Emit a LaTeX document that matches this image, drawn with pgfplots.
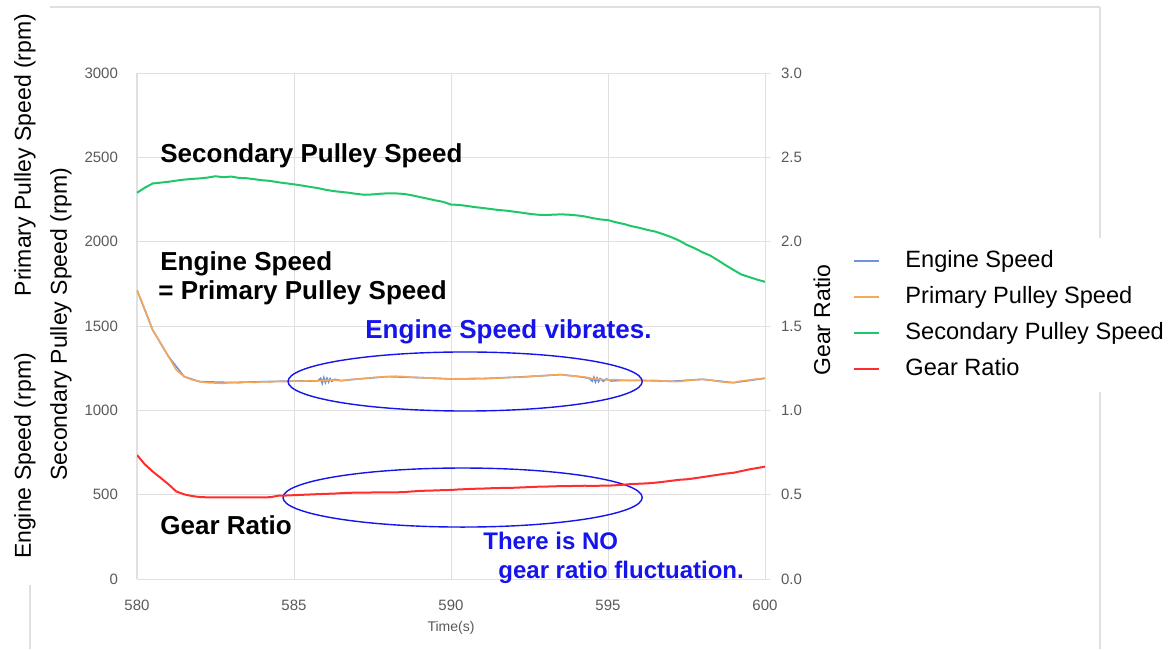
\documentclass[border=0pt]{standalone}
\usepackage{fontspec}
\setmainfont{Liberation Sans}
\usepackage{pgfplots}
\pgfplotsset{compat=1.18}
\usepackage{pgfplotstable}

\definecolor{gridgray}{RGB}{224,224,224}
\definecolor{tickgray}{RGB}{89,89,89}
\definecolor{secgreen}{RGB}{30,200,105}
\definecolor{priorange}{RGB}{245,168,92}
\definecolor{engblue}{RGB}{111,147,216}
\definecolor{ratiored}{RGB}{255,45,45}
\definecolor{annblue}{RGB}{20,20,235}

% t, secondary pulley (rpm), primary pulley (rpm), gear ratio
\pgfplotstableread{
t sec pri gr
580.00 2290 1713 0.735
580.25 2320 1600 0.680
580.50 2345 1476 0.637
580.75 2350 1400 0.600
581.00 2355 1320 0.562
581.25 2362 1240 0.519
581.50 2368 1200 0.502
581.75 2372 1182 0.492
582.00 2375 1170 0.486
582.25 2380 1164 0.484
582.50 2388 1162 0.484
582.75 2382 1160 0.484
583.00 2386 1165 0.484
583.25 2378 1163 0.484
583.50 2376 1168 0.484
583.75 2370 1165 0.484
584.00 2364 1170 0.484
584.25 2360 1168 0.485
584.50 2352 1172 0.494
584.75 2346 1170 0.495
585.00 2340 1174 0.497
585.25 2333 1172 0.499
585.50 2325 1176 0.501
585.75 2318 1174 0.503
586.00 2308 1178 0.505
586.25 2300 1180 0.506
586.50 2295 1176 0.509
586.75 2290 1182 0.511
587.00 2283 1185 0.512
587.25 2278 1190 0.512
587.50 2280 1194 0.513
587.75 2284 1198 0.513
588.00 2287 1200 0.513
588.25 2286 1202 0.514
588.50 2283 1200 0.515
588.75 2275 1196 0.519
589.00 2265 1194 0.522
589.25 2255 1192 0.524
589.50 2245 1190 0.525
589.75 2236 1188 0.527
590.00 2220 1186 0.528
590.25 2218 1188 0.531
590.50 2212 1186 0.533
590.75 2205 1190 0.535
591.00 2200 1188 0.536
591.25 2194 1190 0.538
591.50 2188 1190 0.539
591.75 2184 1194 0.541
592.00 2178 1196 0.541
592.25 2172 1196 0.543
592.50 2165 1200 0.545
592.75 2160 1204 0.547
593.00 2158 1206 0.548
593.25 2160 1210 0.549
593.50 2162 1212 0.551
593.75 2160 1206 0.551
594.00 2156 1202 0.552
594.25 2150 1198 0.553
594.50 2140 1188 0.552
594.75 2132 1184 0.553
595.00 2128 1180 0.553
595.25 2115 1182 0.556
595.50 2105 1178 0.559
595.75 2092 1176 0.563
596.00 2082 1178 0.565
596.25 2070 1176 0.567
596.50 2060 1178 0.571
596.75 2045 1174 0.576
597.00 2028 1172 0.582
597.25 2008 1170 0.588
597.50 1982 1176 0.591
597.75 1962 1180 0.597
598.00 1938 1184 0.604
598.25 1918 1180 0.611
598.50 1890 1172 0.618
598.75 1860 1166 0.625
599.00 1832 1164 0.630
599.25 1805 1174 0.640
599.50 1790 1180 0.650
599.75 1775 1186 0.658
600.00 1762 1190 0.666
}\main

% engine speed: follows the primary pulley, with the vibration spots
\pgfplotstableread{
t eng
580.00 1713
580.50 1476
581.00 1320
581.50 1200
582.00 1170
583.00 1165
584.00 1170
585.00 1174
585.75 1174
585.85 1190
585.90 1160
585.95 1194
586.00 1165
586.05 1190
586.10 1168
586.15 1188
586.20 1172
586.30 1184
586.50 1176
587.00 1185
588.00 1200
589.00 1194
590.00 1186
591.00 1188
592.00 1196
593.00 1206
593.50 1212
594.00 1202
594.40 1190
594.50 1172
594.55 1196
594.60 1168
594.65 1192
594.70 1170
594.75 1188
594.85 1172
594.95 1186
595.10 1174
595.50 1178
596.00 1178
597.00 1172
598.00 1184
599.00 1164
600.00 1190
}\engine

\begin{document}
\begin{tikzpicture}
\useasboundingbox (0,0) rectangle (586pt,324.5pt);

% slide frame lines
\draw[gridgray, line width=0.6pt] (25pt,321pt) -- (550pt,321pt);
\draw[gridgray, line width=0.6pt] (550pt,321pt) -- (550pt,0pt);
\draw[gridgray, line width=0.6pt] (15pt,32pt) -- (15pt,0pt);

\begin{axis}[
    at={(68.5pt,35pt)}, anchor=south west,
    scale only axis, width=314pt, height=253pt,
    xmin=580, xmax=600, ymin=0, ymax=3000,
    xtick={580,585,590,595,600},
    ytick={0,500,1000,1500,2000,2500,3000},
    axis x line*=bottom, axis y line*=left,
    axis line style={draw=gridgray, line width=0.5pt, -},
    grid=major, grid style={draw=gridgray, line width=0.5pt},
    major tick length=0pt,
    ticklabel style={font=\fontsize{7.5}{9}\selectfont, text=tickgray},
    yticklabel style={xshift=-6pt},
    xticklabel style={yshift=-7pt},
    /pgf/number format/assume math mode=true,
    /pgf/number format/1000 sep={},
    xlabel={Time(s)},
    xlabel style={font=\fontsize{7}{8}\selectfont, text=tickgray,
        at={(axis description cs:0.5,0)}, anchor=center, yshift=-24.5pt},
]
\addplot[engblue, line width=0.8pt] table[x=t, y=eng] {\engine};
\addplot[priorange, line width=0.8pt] table[x=t, y=pri] {\main};
\addplot[secgreen, line width=1pt] table[x=t, y=sec] {\main};
\draw[annblue, line width=0.7pt] (axis cs:590.45,1171) ellipse [x radius=5.64, y radius=175];
\draw[annblue, line width=0.7pt] (axis cs:590.37,483) ellipse [x radius=5.72, y radius=175];
\end{axis}

\begin{axis}[
    at={(68.5pt,35pt)}, anchor=south west,
    scale only axis, width=314pt, height=253pt,
    xmin=580, xmax=600, ymin=0, ymax=3,
    axis x line=none, axis y line*=right,
    axis line style={draw=gridgray, line width=0.5pt, -},
    ytick={0,0.5,1,1.5,2,2.5,3},
    tick align=outside, major tick length=2.5pt,
    tick style={draw=gridgray, line width=0.5pt},
    ticklabel style={font=\fontsize{7.5}{9}\selectfont, text=tickgray},
    yticklabel style={xshift=2pt, /pgf/number format/.cd, fixed, fixed zerofill, precision=1},
    /pgf/number format/assume math mode=true,
    legend cell align=left,
    legend style={at={(1.1274,0.6739)}, anchor=north west, draw=none, fill=white,
        font=\fontsize{11.8}{13}\selectfont, inner xsep=4pt, inner ysep=6pt,
        row sep=7pt,
        nodes={inner sep=0pt, text height=8.5pt, text depth=2.5pt}},
    legend image code/.code={\draw[#1] (0pt,0pt) -- (12.5pt,0pt);},
    /tikz/every odd column/.append style={column sep=12.5pt},
]
\addlegendimage{engblue, line width=1pt}
\addlegendentry{Engine Speed}
\addlegendimage{priorange, line width=1pt}
\addlegendentry{Primary Pulley Speed}
\addlegendimage{secgreen, line width=1pt}
\addlegendentry{Secondary Pulley Speed}
\addplot[ratiored, line width=1pt] table[x=t, y=gr] {\main};
\addlegendentry{Gear Ratio}
\end{axis}

% axis titles
\node[rotate=90, font=\fontsize{11.5}{13}\selectfont] at (12.5pt,247pt) {Primary Pulley Speed (rpm)};
\node[rotate=90, font=\fontsize{11.5}{13}\selectfont] at (12.5pt,96.5pt) {Engine Speed (rpm)};
\node[rotate=90, font=\fontsize{11.5}{13}\selectfont] at (30.5pt,162.5pt) {Secondary Pulley Speed (rpm)};
\node[rotate=90, font=\fontsize{11.5}{13}\selectfont] at (411pt,164.5pt) {Gear Ratio};

% annotations
\node[anchor=base west, inner sep=0pt, font=\fontsize{13}{15}\selectfont\bfseries] at (80pt,243pt) {Secondary Pulley Speed};
\node[anchor=base west, inner sep=0pt, font=\fontsize{13}{15}\selectfont\bfseries] at (80pt,189.5pt) {Engine Speed};
\node[anchor=base west, inner sep=0pt, font=\fontsize{13}{15}\selectfont\bfseries] at (79pt,175pt) {= Primary Pulley Speed};
\node[anchor=base west, inner sep=0pt, font=\fontsize{13}{15}\selectfont\bfseries] at (80pt,57.5pt) {Gear Ratio};
\node[anchor=base west, inner sep=0pt, text=annblue, font=\fontsize{13}{15}\selectfont\bfseries] at (182.5pt,155.5pt) {Engine Speed vibrates.};
\node[anchor=base west, inner sep=0pt, text=annblue, font=\fontsize{12}{14}\selectfont\bfseries] at (241.5pt,50pt) {There is NO};
\node[anchor=base west, inner sep=0pt, text=annblue, font=\fontsize{12}{14}\selectfont\bfseries] at (249pt,35.5pt) {gear ratio fluctuation.};
\end{tikzpicture}
\end{document}
